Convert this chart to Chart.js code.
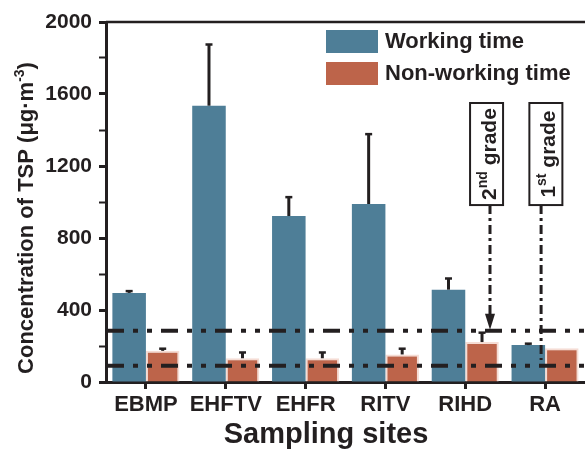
<!DOCTYPE html>
<html>
<head>
<meta charset="utf-8">
<script src="https://cdn.jsdelivr.net/npm/chart.js@4/dist/chart.umd.min.js"></script>
<style>
  html, body { margin: 0; padding: 0; background: #fff; }
  #wrap { width: 585px; height: 450px; }
</style>
</head>
<body>
<div id="wrap"><canvas id="chart" width="585" height="450"></canvas></div>
<script>
// TSP concentration per sampling site (µg·m-3), upper error only
const sites = ['EBMP', 'EHFTV', 'EHFR', 'RITV', 'RIHD', 'RA'];
const working = [495, 1535, 922, 989, 513, 205];
const workingErr = [10, 340, 105, 388, 62, 8];
const nonWorking = [173, 132, 132, 153, 222, 187];
const nonWorkingErr = [12, 32, 32, 32, 52, 0];
const yLabels = [0, 400, 800, 1200, 1600, 2000];
const gradeLimits = [285, 90]; // 2nd grade, 1st grade

const INK = '#231f20';
const FONT = '"Liberation Sans", Arial, sans-serif';

function runsWidth(ctx, runs) {
  return runs.reduce((w, r) => {
    ctx.font = `bold ${r.size}px ${FONT}`;
    return w + ctx.measureText(r.text).width;
  }, 0);
}

function drawRuns(ctx, runs) {
  let x = 0;
  runs.forEach(r => {
    ctx.font = `bold ${r.size}px ${FONT}`;
    ctx.fillText(r.text, x, -(r.rise || 0));
    x += ctx.measureText(r.text).width;
  });
}

// upward rotated text, centred on (cx, cy), baseline at cx + base
function drawVertical(ctx, runs, cx, cy, base) {
  const w = runsWidth(ctx, runs);
  ctx.save();
  ctx.translate(cx + base, cy + w / 2);
  ctx.rotate(-Math.PI / 2);
  ctx.textBaseline = 'alphabetic';
  ctx.textAlign = 'left';
  ctx.fillStyle = INK;
  drawRuns(ctx, runs);
  ctx.restore();
}

const errorBars = {
  id: 'errorBars',
  afterDatasetsDraw(chart) {
    const { ctx, scales: { x, y }, chartArea } = chart;
    const errs = [workingErr, nonWorkingErr];
    const cat = x.width / sites.length;
    ctx.save();

    // standard limit lines (dash-dot-dot)
    ctx.strokeStyle = INK;
    ctx.lineWidth = 4;
    ctx.setLineDash([17, 9, 5, 9, 5, 9]);
    gradeLimits.forEach(v => {
      const py = y.getPixelForValue(v);
      ctx.beginPath();
      ctx.moveTo(chartArea.left + 1, py);
      ctx.lineTo(chartArea.right, py);
      ctx.stroke();
    });

    // grade callouts
    const boxTop = y.getPixelForValue(1550);
    const boxBot = y.getPixelForValue(983);
    const notes = [
      { idx: 4, box: 0.267, line: 0.31, end: gradeLimits[0], arrow: true,
        runs: [{ text: '2', size: 21 }, { text: 'nd', size: 14, rise: 9 }, { text: ' grade', size: 21 }] },
      { idx: 5, box: 0.01, line: -0.05, end: 122, arrow: false,
        runs: [{ text: '1', size: 21 }, { text: 'st', size: 14, rise: 9 }, { text: ' grade', size: 21 }] },
    ];
    notes.forEach(n => {
      const cx = x.getPixelForValue(n.idx) + n.box * cat;
      const lx = x.getPixelForValue(n.idx) + n.line * cat;
      const endY = y.getPixelForValue(n.end);
      ctx.setLineDash([9, 4, 3, 4]);
      ctx.lineWidth = 3;
      ctx.beginPath();
      ctx.moveTo(lx, boxBot);
      ctx.lineTo(lx, n.arrow ? endY - 14 : endY);
      ctx.stroke();
      ctx.setLineDash([]);
      if (n.arrow) {
        ctx.fillStyle = INK;
        ctx.beginPath();
        ctx.moveTo(lx - 5, endY - 17);
        ctx.lineTo(lx + 5, endY - 17);
        ctx.lineTo(lx, endY - 1);
        ctx.closePath();
        ctx.fill();
      }
      ctx.fillStyle = '#fff';
      ctx.fillRect(cx - 16.5, boxTop, 33, boxBot - boxTop);
      ctx.lineWidth = 2;
      ctx.strokeRect(cx - 16.5, boxTop, 33, boxBot - boxTop);
      drawVertical(ctx, n.runs, cx, (boxTop + boxBot) / 2, 9);
    });

    // error bars
    ctx.setLineDash([]);
    ctx.strokeStyle = INK;
    chart.data.datasets.forEach((ds, d) => {
      chart.getDatasetMeta(d).data.forEach((bar, i) => {
        const e = errs[d][i];
        if (!e) return;
        const top = y.getPixelForValue(ds.data[i] + e);
        ctx.lineWidth = 3;
        ctx.beginPath();
        ctx.moveTo(bar.x, bar.y);
        ctx.lineTo(bar.x, top);
        ctx.stroke();
        ctx.lineWidth = 2.5;
        ctx.beginPath();
        ctx.moveTo(bar.x - 3.5, top);
        ctx.lineTo(bar.x + 3.5, top);
        ctx.stroke();
      });
    });

    // top frame line
    ctx.lineWidth = 2.5;
    ctx.beginPath();
    ctx.moveTo(chartArea.left, chartArea.top);
    ctx.lineTo(chartArea.right, chartArea.top);
    ctx.stroke();
    ctx.restore();
  },
  afterDraw(chart) {
    const ctx = chart.ctx;
    ctx.save();
    // legend
    chart.data.datasets.forEach((ds, i) => {
      const top = 30 + i * 32;
      ctx.fillStyle = ds.backgroundColor;
      ctx.fillRect(326, top, 52, 23);
      ctx.fillStyle = INK;
      ctx.font = `bold 22px ${FONT}`;
      ctx.textBaseline = 'middle';
      ctx.textAlign = 'left';
      ctx.fillText(ds.label, 385, top + 12);
    });
    // axis titles
    ctx.font = `bold 29px ${FONT}`;
    ctx.textAlign = 'center';
    ctx.textBaseline = 'middle';
    ctx.fillText('Sampling sites', 326, 435);
    drawVertical(ctx, [
      { text: 'Concentration of TSP (μg·m', size: 22 },
      { text: '-3', size: 14, rise: 9 },
      { text: ')', size: 22 },
    ], 25, 218, 8);
    ctx.restore();
  },
};

new Chart(document.getElementById('chart'), {
  type: 'bar',
  data: {
    labels: sites,
    datasets: [
      {
        label: 'Working time',
        data: working,
        backgroundColor: '#4e7e97',
        borderWidth: 0,
      },
      {
        label: 'Non-working time',
        data: nonWorking,
        backgroundColor: '#bd644a',
        borderColor: '#f5dcd4',
        borderWidth: 2,
      },
    ],
  },
  options: {
    responsive: false,
    animation: false,
    layout: { padding: { top: 22, left: 0, right: 0, bottom: 0 } },
    datasets: { bar: { categoryPercentage: 0.84, barPercentage: 1 } },
    plugins: {
      legend: { display: false },
      tooltip: { enabled: false },
    },
    scales: {
      x: {
        grid: { display: true, drawOnChartArea: false, offset: false, tickLength: 7, tickWidth: 3, tickColor: INK },
        border: { display: true, width: 3, color: INK },
        ticks: { color: INK, padding: 3, font: { family: FONT, size: 22, weight: 'bold' }, maxRotation: 0 },
        afterFit: s => { s.height = 68; },
      },
      y: {
        min: 0,
        max: 2000,
        grid: {
          display: true, drawOnChartArea: false, tickLength: 7, tickColor: INK,
          tickWidth: c => (yLabels.includes(c.tick.value) ? 3 : 2),
        },
        border: { display: true, width: 3, color: INK },
        ticks: {
          stepSize: 200,
          color: INK,
          padding: 7,
          autoSkip: false,
          font: { family: FONT, size: 21, weight: 'bold' },
          callback: v => (yLabels.includes(v) ? v : ''),
        },
        afterFit: s => { s.width = 106; },
      },
    },
  },
  plugins: [errorBars],
});
</script>
</body>
</html>
